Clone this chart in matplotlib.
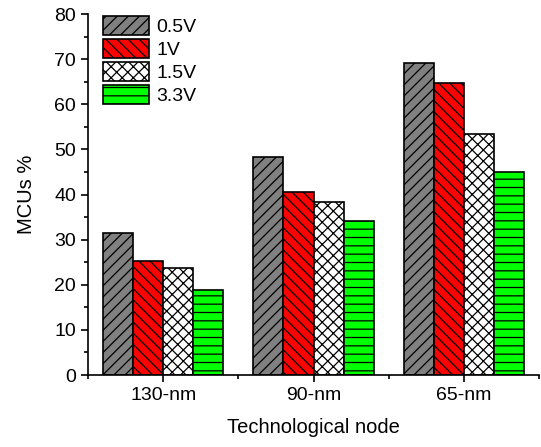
import matplotlib
matplotlib.use("Agg")
from matplotlib import pyplot as plt
from matplotlib.ticker import MultipleLocator, FixedLocator
import numpy as np

nodes = ['130-nm', '90-nm', '65-nm']
voltages = ['0.5V', '1V', '1.5V', '3.3V']
v05 = [31.4, 48.4, 69.1]
v1 = [25.3, 40.5, 64.7]
v15 = [23.8, 38.4, 53.4]
v33 = [18.9, 34.2, 45.1]

series = [v05, v1, v15, v33]
colors = ['#808080', '#ff0000', '#ffffff', '#00ff00']
hatches = ['///', '\\\\\\', 'xxx', '--']

plt.rcParams['font.family'] = ['Liberation Sans', 'DejaVu Sans']
plt.rcParams['hatch.linewidth'] = 0.9

fig = plt.figure(figsize=(5.41, 4.47), dpi=100)
ax = fig.add_axes([0.1627, 0.161, 0.8336, 0.8076])

x = np.arange(len(nodes))
w = 0.2
for i in range(4):
    ax.bar(x + (i - 1.5) * w, series[i], w, color=colors[i], hatch=hatches[i],
           edgecolor='black', linewidth=1.2, label=voltages[i])

ax.set_xlim(-0.5, 2.5)
ax.set_ylim(0, 80)
ax.set_xticks(x)
ax.set_xticklabels(nodes)
ax.xaxis.set_minor_locator(FixedLocator([-0.5, 0.5, 1.5, 2.5]))
ax.yaxis.set_major_locator(MultipleLocator(10))
ax.yaxis.set_minor_locator(MultipleLocator(5))
ax.spines['top'].set_visible(False)
ax.spines['right'].set_visible(False)
ax.spines['left'].set_linewidth(1.2)
ax.spines['bottom'].set_linewidth(1.2)
ax.tick_params(which='major', direction='out', length=5, width=1.2, labelsize=14)
ax.tick_params(which='minor', direction='out', length=3, width=1.2)

ax.set_xlabel('Technological node', fontsize=14.5, labelpad=10)
ax.set_ylabel('MCUs %', fontsize=14.5, labelpad=13)

ax.legend(loc='upper left', bbox_to_anchor=(15 / 451, 1 - 2 / 361), frameon=False,
          fontsize=14, borderpad=0, borderaxespad=0, handlelength=2.37,
          handleheight=1.13, labelspacing=0.15, handletextpad=0.36)

fig.savefig('out.png', dpi=100)
